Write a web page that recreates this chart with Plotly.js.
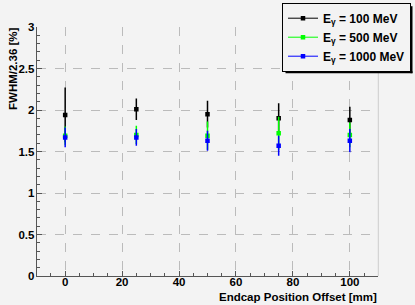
<!DOCTYPE html>
<html>
<head>
<meta charset="utf-8">
<script src="https://cdn.plot.ly/plotly-3.0.1.min.js"></script>
<style>
html,body{margin:0;padding:0;background:#f3f3f3;}
#chart{width:415px;height:305px;}
</style>
</head>
<body>
<div id="chart"></div>
<script>
const offsets = [0, 25, 50, 75, 100];
const e100 = [1.94, 2.01, 1.95, 1.90, 1.88];
const e100Err = [0.33, 0.13, 0.16, 0.18, 0.16];
const e500 = [1.69, 1.70, 1.69, 1.72, 1.70];
const e500Err = [0.11, 0.11, 0.17, 0.20, 0.15];
const e1000 = [1.67, 1.67, 1.63, 1.57, 1.63];
const e1000Err = [0.12, 0.10, 0.12, 0.12, 0.14];
const seriesNames = ['E<sub>γ</sub> = 100 MeV', 'E<sub>γ</sub> = 500 MeV', 'E<sub>γ</sub> = 1000 MeV'];
const seriesColors = ['#000000', '#00ff00', '#0000ff'];
const xTitle = 'Endcap Position Offset [mm]';
const yTitle = 'FWHM/2.36 [%]';

const W = 415, H = 305;
const plotL = 36.7, plotR = 378.3, plotT = 27, plotB = 276;

const ys = [e100, e500, e1000];
const errs = [e100Err, e500Err, e1000Err];
const traces = [];
ys.forEach((y, i) => {
  traces.push({
    x: offsets, y: y, type: 'scatter', mode: 'markers', showlegend: false,
    marker: {color: seriesColors[i], size: 4.5, symbol: 'square'},
    error_y: {type: 'data', array: errs[i], visible: true, color: seriesColors[i], thickness: 1.5, width: 0}
  });
});
ys.forEach((y, i) => {
  traces.push({
    x: [null], y: [null], type: 'scatter', mode: 'lines+markers', name: seriesNames[i],
    line: {color: seriesColors[i], width: 1},
    marker: {color: seriesColors[i], size: 4.5, symbol: 'square'}
  });
});

const font = {family: 'Liberation Sans, Arial, sans-serif', size: 11.5, color: '#000', weight: 700};
const layout = {
  width: W, height: H,
  margin: {l: 0, r: 0, t: 0, b: 0, pad: 0},
  paper_bgcolor: '#f3f3f3', plot_bgcolor: '#f3f3f3',
  font: font,
  showlegend: true,
  legend: {
    x: 411 / W, y: 1 - 2.7 / H, xanchor: 'right', yanchor: 'top',
    bgcolor: '#f3f3f3', bordercolor: '#000', borderwidth: 1,
    font: {family: 'Liberation Sans, Arial, sans-serif', size: 12, color: '#000', weight: 700},
    itemwidth: 30, tracegroupgap: 0
  },
  xaxis: {
    domain: [plotL / W, plotR / W],
    range: [-10, 110], tickvals: [0, 20, 40, 60, 80, 100],
    ticks: 'inside', ticklen: 5, tickcolor: '#555', tickwidth: 1,
    ticklabelstandoff: -5,
    showline: true, linecolor: '#555', linewidth: 1, mirror: false,
    showgrid: true, gridcolor: '#bbbbbb', griddash: 'dash', gridwidth: 1,
    zeroline: false, automargin: false,
    minor: {dtick: 5, tick0: 0, ticks: 'inside', ticklen: 3, tickcolor: '#555', showgrid: false},
    tickfont: font
  },
  yaxis: {
    domain: [(H - plotB) / H, (H - plotT) / H],
    range: [0, 3], dtick: 0.5, tick0: 0,
    ticks: 'inside', ticklen: 5, tickcolor: '#555', tickwidth: 1,
    ticklabelstandoff: -1,
    showline: true, linecolor: '#555', linewidth: 1,
    showgrid: true, gridcolor: '#bbbbbb', griddash: 'dash', gridwidth: 1,
    zeroline: false, automargin: false,
    minor: {dtick: 0.1, ticks: 'inside', ticklen: 3, tickcolor: '#555', showgrid: false},
    tickfont: font
  },
  shapes: [
    {type: 'line', xref: 'paper', yref: 'paper', x0: plotR / W, x1: plotR / W, y0: (H - plotB) / H, y1: (H - plotT) / H, line: {color: '#cccccc', width: 1}}
  ],
  annotations: [
    {text: xTitle, xref: 'paper', yref: 'paper', x: 378.5 / W, y: 1 - 297 / H, xanchor: 'right', yanchor: 'middle', showarrow: false, font: font},
    {text: yTitle, xref: 'paper', yref: 'paper', x: 12.5 / W, y: 1 - 25 / H, xanchor: 'center', yanchor: 'top', textangle: -90, showarrow: false, font: font}
  ]
};

Plotly.newPlot('chart', traces, layout, {displayModeBar: false, staticPlot: true}).then(gd => {
  const bg = gd.querySelector('.legend .bg');
  if (bg) {
    const box = bg.getBoundingClientRect();
    const root = gd.getBoundingClientRect();
    const toX = px => (px - root.left) / W;
    const toY = py => 1 - (py - root.top) / H;
    const shadow = [
      {type: 'rect', xref: 'paper', yref: 'paper', x0: toX(box.right), x1: toX(box.right + 2), y0: toY(box.bottom + 2), y1: toY(box.top + 3), fillcolor: '#000', line: {width: 0}, layer: 'above'},
      {type: 'rect', xref: 'paper', yref: 'paper', x0: toX(box.left + 3), x1: toX(box.right + 2), y0: toY(box.bottom + 2), y1: toY(box.bottom), fillcolor: '#000', line: {width: 0}, layer: 'above'}
    ];
    Plotly.relayout(gd, {shapes: layout.shapes.concat(shadow)});
  }
});
</script>
</body>
</html>
